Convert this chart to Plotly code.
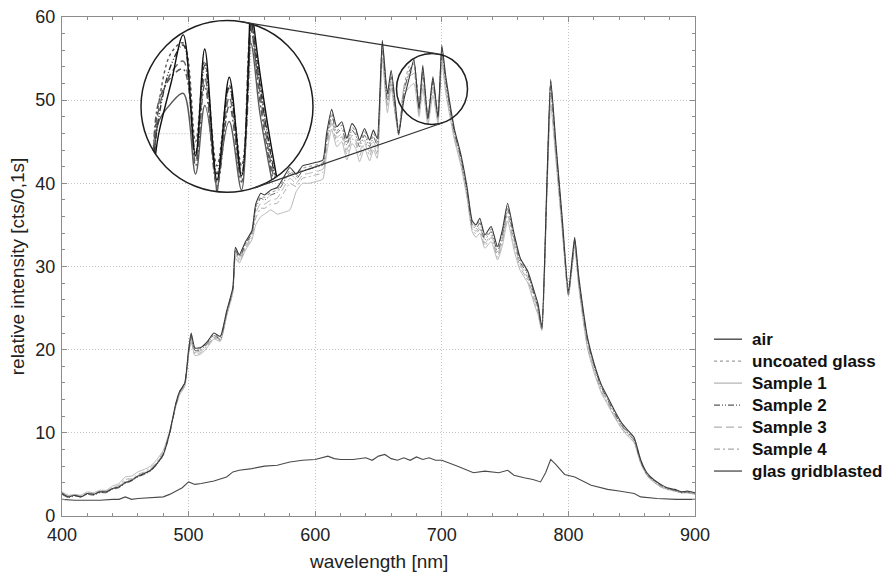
import math
import plotly.graph_objects as go

# ---------------- data ----------------
wavelength = [
    400, 405, 410, 415, 420, 425, 430, 435, 440, 445,
    450, 455, 460, 465, 470, 475, 480, 485, 490, 493,
    497, 500, 502, 505, 510, 515, 520, 525, 530, 535,
    537, 540, 545, 550, 553, 557, 560, 565, 570, 575,
    580, 585, 590, 595, 600, 606, 609, 613, 617, 621,
    625, 629, 632, 635, 639, 643, 646, 649, 653, 657,
    660, 663, 666, 670, 674, 678, 682, 685, 689, 693,
    697, 700, 703, 706, 710, 715, 720, 724, 727, 730,
    734, 739, 744, 748, 752, 757, 762, 768, 773, 776,
    779, 783, 786, 790, 795, 800, 803, 805, 808, 811,
    815, 820, 826, 831, 836, 842, 847, 852, 857, 862,
    868, 873, 878, 884, 889, 894, 900,
]

air = [
    2.7, 2.3, 2.5, 2.3, 2.7, 2.6, 2.9, 2.9, 3.3, 3.5,
    4.0, 4.3, 4.8, 5.1, 5.5, 6.3, 7.4, 10.0, 13.6, 15.0,
    16.0, 20.0, 22.0, 20.2, 20.3, 21.0, 22.0, 21.6, 24.6, 27.5,
    32.3, 31.4, 33.0, 34.3, 37.5, 38.8, 38.6, 39.2, 39.5, 40.7,
    41.9, 41.1, 42.1, 42.3, 42.5, 42.8, 46.0, 48.9, 46.8, 47.4,
    45.4, 47.2, 46.6, 45.2, 46.6, 45.2, 46.4, 45.4, 57.2, 50.8,
    53.6, 50.0, 46.0, 50.0, 52.5, 54.9, 48.9, 54.2, 47.7, 52.8,
    47.9, 56.6, 53.0, 50.0, 46.5, 43.5, 39.5, 35.5, 35.0, 35.8,
    33.8, 34.8, 32.4, 34.5, 37.6, 34.0, 31.0, 29.4, 27.0, 25.5,
    22.8, 40.0, 52.5, 45.0, 36.0, 27.0, 31.0, 33.5, 29.0, 25.5,
    21.5, 18.5, 15.8, 14.3, 12.8, 11.2, 10.3, 9.4, 6.8, 5.2,
    4.3, 3.8, 3.4, 3.2, 2.9, 3.0, 2.8,
]

uncoated_glass = [
    2.8, 2.4, 2.5, 2.4, 2.7, 2.7, 2.9, 3.0, 3.3, 3.5,
    4.1, 4.3, 4.8, 5.1, 5.6, 6.3, 7.5, 10.0, 13.5, 15.0,
    16.0, 19.8, 21.8, 20.0, 20.2, 20.9, 21.8, 21.5, 24.5, 27.4,
    32.0, 31.2, 32.8, 34.2, 37.2, 38.4, 38.3, 38.9, 39.2, 40.4,
    41.5, 40.8, 41.8, 42.0, 42.2, 42.5, 45.6, 48.5, 46.3, 47.0,
    45.0, 46.8, 46.2, 44.8, 46.2, 44.8, 46.0, 45.0, 56.8, 50.5,
    53.2, 49.8, 46.2, 51.5, 54.0, 54.5, 49.6, 53.6, 48.4, 52.4,
    48.4, 56.2, 52.6, 49.6, 46.3, 43.3, 39.3, 35.3, 34.8, 35.5,
    33.5, 34.5, 32.2, 34.2, 37.3, 33.8, 30.8, 29.2, 26.8, 25.3,
    22.6, 39.8, 52.2, 44.8, 35.8, 26.8, 30.8, 33.3, 28.8, 25.3,
    21.3, 18.3, 15.6, 14.1, 12.6, 11.0, 10.1, 9.2, 6.7, 5.1,
    4.2, 3.7, 3.3, 3.1, 2.9, 2.9, 2.7,
]

sample_1 = [
    2.9, 2.5, 2.6, 2.5, 2.9, 2.8, 3.1, 3.1, 3.6, 3.9,
    4.7, 4.8, 5.3, 5.6, 6.0, 6.8, 7.9, 10.2, 13.2, 14.6,
    15.6, 19.4, 21.0, 19.3, 19.5, 20.3, 21.3, 21.0, 24.0, 26.9,
    31.0, 30.4, 32.0, 33.2, 35.0, 36.0, 36.3, 36.8, 36.3, 36.5,
    36.8, 39.0, 40.0, 40.0, 40.2, 40.5, 43.5, 46.5, 44.4, 45.0,
    42.8, 44.8, 44.2, 42.6, 44.2, 42.7, 44.0, 43.0, 55.0, 48.5,
    51.5, 48.5, 45.8, 50.6, 51.5, 52.0, 48.0, 51.4, 47.0, 50.6,
    47.2, 54.5, 51.0, 48.4, 45.2, 42.2, 38.2, 34.2, 33.5, 34.0,
    32.2, 33.0, 30.8, 32.6, 35.5, 32.0, 29.5, 28.0, 25.5, 24.2,
    22.3, 38.5, 49.5, 43.0, 34.5, 26.5, 30.0, 32.5, 27.8, 24.2,
    20.2, 17.4, 14.8, 13.4, 12.0, 10.5, 9.6, 8.8, 6.4, 4.9,
    4.0, 3.5, 3.2, 3.0, 2.8, 2.8, 2.6,
]

sample_2 = [
    2.6, 2.2, 2.4, 2.3, 2.6, 2.5, 2.8, 2.8, 3.2, 3.4,
    3.9, 4.2, 4.7, 5.0, 5.4, 6.2, 7.3, 9.8, 13.4, 14.9,
    15.9, 19.7, 21.6, 19.9, 20.0, 20.8, 21.7, 21.3, 24.4, 27.3,
    32.0, 31.0, 32.7, 34.0, 37.0, 38.2, 38.0, 38.6, 38.9, 40.1,
    41.2, 40.5, 41.5, 41.7, 41.9, 42.2, 45.3, 48.2, 46.0, 46.6,
    44.6, 46.4, 45.8, 44.4, 45.8, 44.4, 45.6, 44.6, 56.5, 50.0,
    52.8, 49.2, 45.8, 50.8, 53.4, 54.4, 49.0, 53.4, 48.0, 52.3,
    48.0, 56.0, 52.4, 49.4, 46.1, 43.1, 39.0, 35.0, 34.5, 35.2,
    33.2, 34.2, 31.8, 33.8, 37.0, 33.5, 30.5, 29.0, 26.6, 25.0,
    22.5, 39.5, 51.8, 44.5, 35.5, 26.6, 30.5, 33.0, 28.6, 25.1,
    21.2, 18.2, 15.5, 14.0, 12.5, 10.9, 10.0, 9.1, 6.6, 5.0,
    4.2, 3.7, 3.3, 3.1, 2.8, 2.9, 2.7,
]

sample_3 = [
    2.7, 2.3, 2.5, 2.3, 2.7, 2.6, 2.9, 2.9, 3.3, 3.6,
    4.2, 4.4, 4.9, 5.2, 5.6, 6.4, 7.5, 10.0, 13.4, 14.8,
    15.8, 19.6, 21.4, 19.7, 19.9, 20.6, 21.5, 21.2, 24.3, 27.2,
    31.6, 30.8, 32.4, 33.8, 36.4, 37.6, 37.5, 38.0, 38.2, 39.5,
    40.6, 40.0, 41.0, 41.2, 41.4, 41.7, 44.8, 47.6, 45.5, 46.0,
    44.0, 45.8, 45.2, 43.8, 45.2, 43.8, 45.0, 44.0, 56.0, 49.6,
    52.4, 48.8, 45.9, 51.2, 53.0, 53.6, 48.6, 52.8, 47.6, 51.8,
    47.8, 55.6, 52.0, 49.0, 45.8, 42.8, 38.8, 34.8, 34.2, 34.8,
    32.8, 33.8, 31.4, 33.4, 36.6, 33.0, 30.2, 28.6, 26.2, 24.8,
    22.4, 39.2, 51.2, 44.0, 35.2, 26.5, 30.3, 32.8, 28.3, 24.8,
    20.8, 17.9, 15.3, 13.8, 12.3, 10.8, 9.9, 9.0, 6.5, 5.0,
    4.1, 3.6, 3.3, 3.1, 2.8, 2.8, 2.7,
]

sample_4 = [
    2.8, 2.4, 2.5, 2.4, 2.8, 2.7, 3.0, 3.0, 3.4, 3.7,
    4.4, 4.5, 5.0, 5.3, 5.8, 6.5, 7.7, 10.1, 13.3, 14.7,
    15.7, 19.5, 21.2, 19.5, 19.7, 20.5, 21.4, 21.1, 24.1, 27.0,
    31.3, 30.6, 32.2, 33.5, 35.8, 37.0, 37.0, 37.5, 37.6, 38.8,
    40.0, 39.6, 40.6, 40.8, 41.0, 41.3, 44.3, 47.2, 45.0, 45.6,
    43.5, 45.4, 44.8, 43.3, 44.8, 43.3, 44.6, 43.5, 55.6, 49.2,
    52.0, 48.6, 46.0, 51.6, 52.8, 53.2, 48.4, 52.4, 47.4, 51.4,
    47.6, 55.2, 51.6, 48.7, 45.6, 42.5, 38.5, 34.5, 33.9, 34.5,
    32.5, 33.5, 31.1, 33.1, 36.2, 32.6, 29.9, 28.3, 25.9, 24.5,
    22.4, 38.9, 50.6, 43.6, 34.9, 26.5, 30.1, 32.6, 28.0, 24.5,
    20.5, 17.6, 15.0, 13.6, 12.1, 10.6, 9.7, 8.9, 6.4, 4.9,
    4.0, 3.5, 3.2, 3.0, 2.8, 2.8, 2.6,
]

wavelength_gridblasted = [
    400, 410, 420, 430, 440, 445, 450, 455, 460, 470,
    480, 485, 490, 495, 500, 505, 510, 520, 530, 535,
    540, 550, 560, 570, 580, 590, 600, 605, 610, 615,
    620, 630, 640, 645, 650, 655, 660, 665, 670, 675,
    680, 685, 690, 695, 700, 712, 725, 734, 745, 752,
    757, 765, 772, 778, 782, 786, 790, 797, 805, 818,
    831, 840, 852, 857, 870, 885, 900,
]

glas_gridblasted = [
    2.0, 1.9, 1.9, 1.9, 2.0, 2.0, 2.3, 2.0, 2.1, 2.2,
    2.3, 2.6, 3.0, 3.4, 4.1, 3.8, 3.9, 4.2, 4.7, 5.3,
    5.5, 5.7, 6.0, 6.1, 6.5, 6.7, 6.8, 7.0, 7.2, 6.9,
    6.8, 6.8, 7.0, 6.7, 7.2, 7.4, 6.9, 6.7, 7.0, 6.7,
    7.1, 6.8, 7.0, 6.7, 6.7, 6.0, 5.2, 5.4, 5.2, 5.5,
    4.9, 4.6, 4.4, 4.1, 5.2, 6.8, 6.2, 5.0, 4.7, 3.7,
    3.2, 3.0, 2.7, 2.3, 2.1, 2.0, 2.0,
]

x_ticks = [400, 500, 600, 700, 800, 900]
y_ticks = [0, 10, 20, 30, 40, 50, 60]
x_range = [400, 900]
y_range = [0, 60]

series_names = ["air", "uncoated glass", "Sample 1", "Sample 2", "Sample 3",
                "Sample 4", "glas gridblasted"]

# ---------------- layout geometry ----------------
OFF = 8                          # page body margin of the html page
PAGE_W, PAGE_H = 892, 572
W, H = PAGE_W - OFF, PAGE_H - OFF
PX0, PX1, PY0, PY1 = 62.0, 695.0, 16.5, 516.0   # plot box in page pixels
PW, PH = PX1 - PX0, PY1 - PY0
ML, MT = PX0 - OFF, PY0 - OFF
MR, MB = W - (PX1 - OFF), H - (PY1 - OFF)

def px_to_paper(px, py):
    return (px - PX0) / PW, (PY1 - py) / PH

def px_to_data(px, py):
    return (x_range[0] + (px - PX0) / PW * (x_range[1] - x_range[0]),
            y_range[0] + (PY1 - py) / PH * (y_range[1] - y_range[0]))

BIG = (227.0, 106.0, 86.0)     # inset circle (cx, cy, r), page px
SMALL = (432.0, 88.5, 35.5)    # zoomed region circle, page px

scx, scy = px_to_data(SMALL[0], SMALL[1])
srx = SMALL[2] / PW * (x_range[1] - x_range[0])
sry = SMALL[2] / PH * (y_range[1] - y_range[0])

def clip_ellipse(xs, ys, cx, cy, rx, ry):
    ox, oy = [], []
    last = None
    for i in range(len(xs) - 1):
        x0, y0, x1, y1 = xs[i], ys[i], xs[i + 1], ys[i + 1]
        u0, v0 = (x0 - cx) / rx, (y0 - cy) / ry
        du, dv = (x1 - x0) / rx, (y1 - y0) / ry
        a = du * du + dv * dv
        b = 2 * (u0 * du + v0 * dv)
        c = u0 * u0 + v0 * v0 - 1
        disc = b * b - 4 * a * c
        if a == 0 or disc <= 0:
            continue
        s = math.sqrt(disc)
        t0 = max(0.0, (-b - s) / (2 * a))
        t1 = min(1.0, (-b + s) / (2 * a))
        if t0 >= t1:
            continue
        pa = (x0 + (x1 - x0) * t0, y0 + (y1 - y0) * t0)
        pb = (x0 + (x1 - x0) * t1, y0 + (y1 - y0) * t1)
        if last is not None and abs(last[0] - pa[0]) < 1e-9 and abs(last[1] - pa[1]) < 1e-9:
            ox.append(pb[0]); oy.append(pb[1])
        else:
            if ox:
                ox.append(None); oy.append(None)
            ox += [pa[0], pb[0]]; oy += [pa[1], pb[1]]
        last = pb
    return ox, oy

FONT = "Liberation Sans, Arial, sans-serif"
AXC = "#8c8c8c"

styles = {
    "air": dict(color="#3a3a3a", dash="solid", width=1.1),
    "uncoated glass": dict(color="#a0a0a0", dash="dot", width=1.1),
    "Sample 1": dict(color="#b8b8b8", dash="solid", width=1.0),
    "Sample 2": dict(color="#5a5a5a", dash="6px,2px,1px,2px,1px,2px", width=1.0),
    "Sample 3": dict(color="#b0b0b0", dash="8px,4px", width=1.0),
    "Sample 4": dict(color="#a8a8a8", dash="6px,3px,2px,3px", width=1.0),
    "glas gridblasted": dict(color="#4a4a4a", dash="solid", width=1.1),
}
inset_colors = {
    "air": "#111111", "uncoated glass": "#555555", "Sample 1": "#5a5a5a",
    "Sample 2": "#333333", "Sample 3": "#666666", "Sample 4": "#555555",
}
values = {
    "air": air, "uncoated glass": uncoated_glass, "Sample 1": sample_1,
    "Sample 2": sample_2, "Sample 3": sample_3, "Sample 4": sample_4,
}

fig = go.Figure()

draw_order = ["Sample 1", "Sample 3", "Sample 4", "uncoated glass", "Sample 2", "air"]
for name in draw_order:
    st = styles[name]
    fig.add_trace(go.Scatter(
        x=wavelength, y=values[name], mode="lines", name=name, showlegend=False,
        line=dict(color=st["color"], dash=st["dash"], width=st["width"],
                  shape="spline", smoothing=0.5),
        hoverinfo="skip"))
st = styles["glas gridblasted"]
fig.add_trace(go.Scatter(
    x=wavelength_gridblasted, y=glas_gridblasted, mode="lines",
    name="glas gridblasted", showlegend=False,
    line=dict(color=st["color"], dash=st["dash"], width=st["width"]),
    hoverinfo="skip"))

# ---- inset (magnified view) on axes x2/y2 ----
nseg = 180
circ_x = [scx + srx * math.cos(2 * math.pi * k / nseg) for k in range(nseg + 1)]
circ_y = [scy + sry * math.sin(2 * math.pi * k / nseg) for k in range(nseg + 1)]
fig.add_trace(go.Scatter(x=circ_x, y=circ_y, xaxis="x2", yaxis="y2", mode="lines",
                         fill="toself", fillcolor="white", line=dict(width=0, color="white"),
                         showlegend=False, hoverinfo="skip"))
GRIDC = "#c4c4c4"
GRIDDASH = "1px,2px"
for xt in x_ticks:
    d = (xt - scx) / srx
    if abs(d) < 1:
        h = sry * math.sqrt(1 - d * d)
        fig.add_trace(go.Scatter(x=[xt, xt], y=[scy - h, scy + h], xaxis="x2", yaxis="y2",
                                 mode="lines", line=dict(color=GRIDC, dash=GRIDDASH, width=1.3),
                                 showlegend=False, hoverinfo="skip"))
for yt in y_ticks:
    d = (yt - scy) / sry
    if abs(d) < 1:
        w = srx * math.sqrt(1 - d * d)
        fig.add_trace(go.Scatter(x=[scx - w, scx + w], y=[yt, yt], xaxis="x2", yaxis="y2",
                                 mode="lines", line=dict(color=GRIDC, dash=GRIDDASH, width=1.3),
                                 showlegend=False, hoverinfo="skip"))
for name in draw_order:
    cx_, cy_ = clip_ellipse(wavelength, values[name], scx, scy, srx, sry)
    fig.add_trace(go.Scatter(
        x=cx_, y=cy_, xaxis="x2", yaxis="y2", mode="lines", showlegend=False,
        line=dict(color=inset_colors[name], dash=styles[name]["dash"], width=1.4,
                  shape="spline", smoothing=1.0),
        hoverinfo="skip", connectgaps=False))

# ---- circles and tangent lines ----
shapes = []
for (cx, cy, r) in (BIG, SMALL):
    x0, y0 = px_to_paper(cx - r, cy + r)
    x1, y1 = px_to_paper(cx + r, cy - r)
    shapes.append(dict(type="circle", xref="paper", yref="paper", x0=x0, y0=y0,
                       x1=x1, y1=y1, line=dict(color="#1e1e1e", width=1.5), layer="above"))

dx, dy = SMALL[0] - BIG[0], SMALL[1] - BIG[1]
D = math.hypot(dx, dy)
phi = math.atan2(dy, dx)
alpha = math.acos((BIG[2] - SMALL[2]) / D)
for sgn in (1, -1):
    th = phi + sgn * alpha
    nx, ny = math.cos(th), math.sin(th)
    p1 = px_to_paper(BIG[0] + BIG[2] * nx, BIG[1] + BIG[2] * ny)
    p2 = px_to_paper(SMALL[0] + SMALL[2] * nx, SMALL[1] + SMALL[2] * ny)
    shapes.append(dict(type="line", xref="paper", yref="paper", x0=p1[0], y0=p1[1],
                       x1=p2[0], y1=p2[1], line=dict(color="#333333", width=1.2),
                       layer="above"))

bx0, _ = px_to_paper(BIG[0] - BIG[2], 0)
bx1, _ = px_to_paper(BIG[0] + BIG[2], 0)
_, by0 = px_to_paper(0, BIG[1] + BIG[2])
_, by1 = px_to_paper(0, BIG[1] - BIG[2])

# ---- legend drawn as line samples + text (page pixel positions) ----
annotations = []
LEG_X0, LEG_X1, LEG_TX, LEG_Y0, LEG_DY = 714, 742, 750, 339, 22
for i, name in enumerate(series_names):
    yy = LEG_Y0 + LEG_DY * i
    st = styles[name]
    lx0, ly = px_to_paper(LEG_X0, yy)
    lx1, _ = px_to_paper(LEG_X1, yy)
    shapes.append(dict(type="line", xref="paper", yref="paper", x0=lx0, y0=ly, x1=lx1, y1=ly,
                       line=dict(color=st["color"], dash=st["dash"], width=1.3)))
    tx, ty = px_to_paper(LEG_TX, yy)
    annotations.append(dict(text=name, xref="paper", yref="paper", x=tx, y=ty,
                            xanchor="left", yanchor="middle", showarrow=False,
                            font=dict(family=FONT, size=17, color="#111", weight="bold")))

# axis titles placed as annotations
xt_x, xt_y = px_to_paper(378, 562)
yt_x, yt_y = px_to_paper(17, 266)
annotations += [
    dict(text="wavelength [nm]", xref="paper", yref="paper", x=xt_x, y=xt_y,
         xanchor="center", yanchor="middle", showarrow=False,
         font=dict(family=FONT, size=19, color="#222")),
    dict(text="relative intensity [cts/0,1s]", xref="paper", yref="paper",
         x=yt_x, y=yt_y, xanchor="center", yanchor="middle", textangle=-90,
         showarrow=False, font=dict(family=FONT, size=19, color="#222")),
]

axis_common = dict(
    showline=True, linecolor=AXC, linewidth=1.2, mirror="ticks",
    ticks="inside", ticklen=5, tickcolor=AXC,
    showgrid=True, gridcolor=GRIDC, griddash=GRIDDASH, gridwidth=1,
    zeroline=False, tickfont=dict(family=FONT, size=18, color="#222"),
    ticklabeloverflow="allow",
)

fig.update_layout(
    width=W, height=H, autosize=False,
    margin=dict(l=ML, r=MR, t=MT, b=MB, pad=0),
    paper_bgcolor="white", plot_bgcolor="rgba(0,0,0,0)",
    font=dict(family=FONT, size=18, color="#222"),
    xaxis=dict(range=x_range, tickvals=x_ticks, automargin=False, ticklabelstandoff=2,
               minor=dict(ticks="inside", dtick=20, ticklen=3, tickcolor=AXC, showgrid=False),
               **axis_common),
    yaxis=dict(range=y_range, tickvals=y_ticks, automargin=False, ticklabelstandoff=2,
               minor=dict(ticks="inside", dtick=2, ticklen=3, tickcolor=AXC, showgrid=False),
               **axis_common),
    xaxis2=dict(domain=[bx0, bx1], range=[scx - srx, scx + srx], visible=False,
                anchor="y2", fixedrange=True),
    yaxis2=dict(domain=[by0, by1], range=[scy - sry, scy + sry], visible=False,
                anchor="x2", fixedrange=True),
    annotations=annotations,
    shapes=shapes,
    showlegend=False,
)

fig.write_html("out.html")
